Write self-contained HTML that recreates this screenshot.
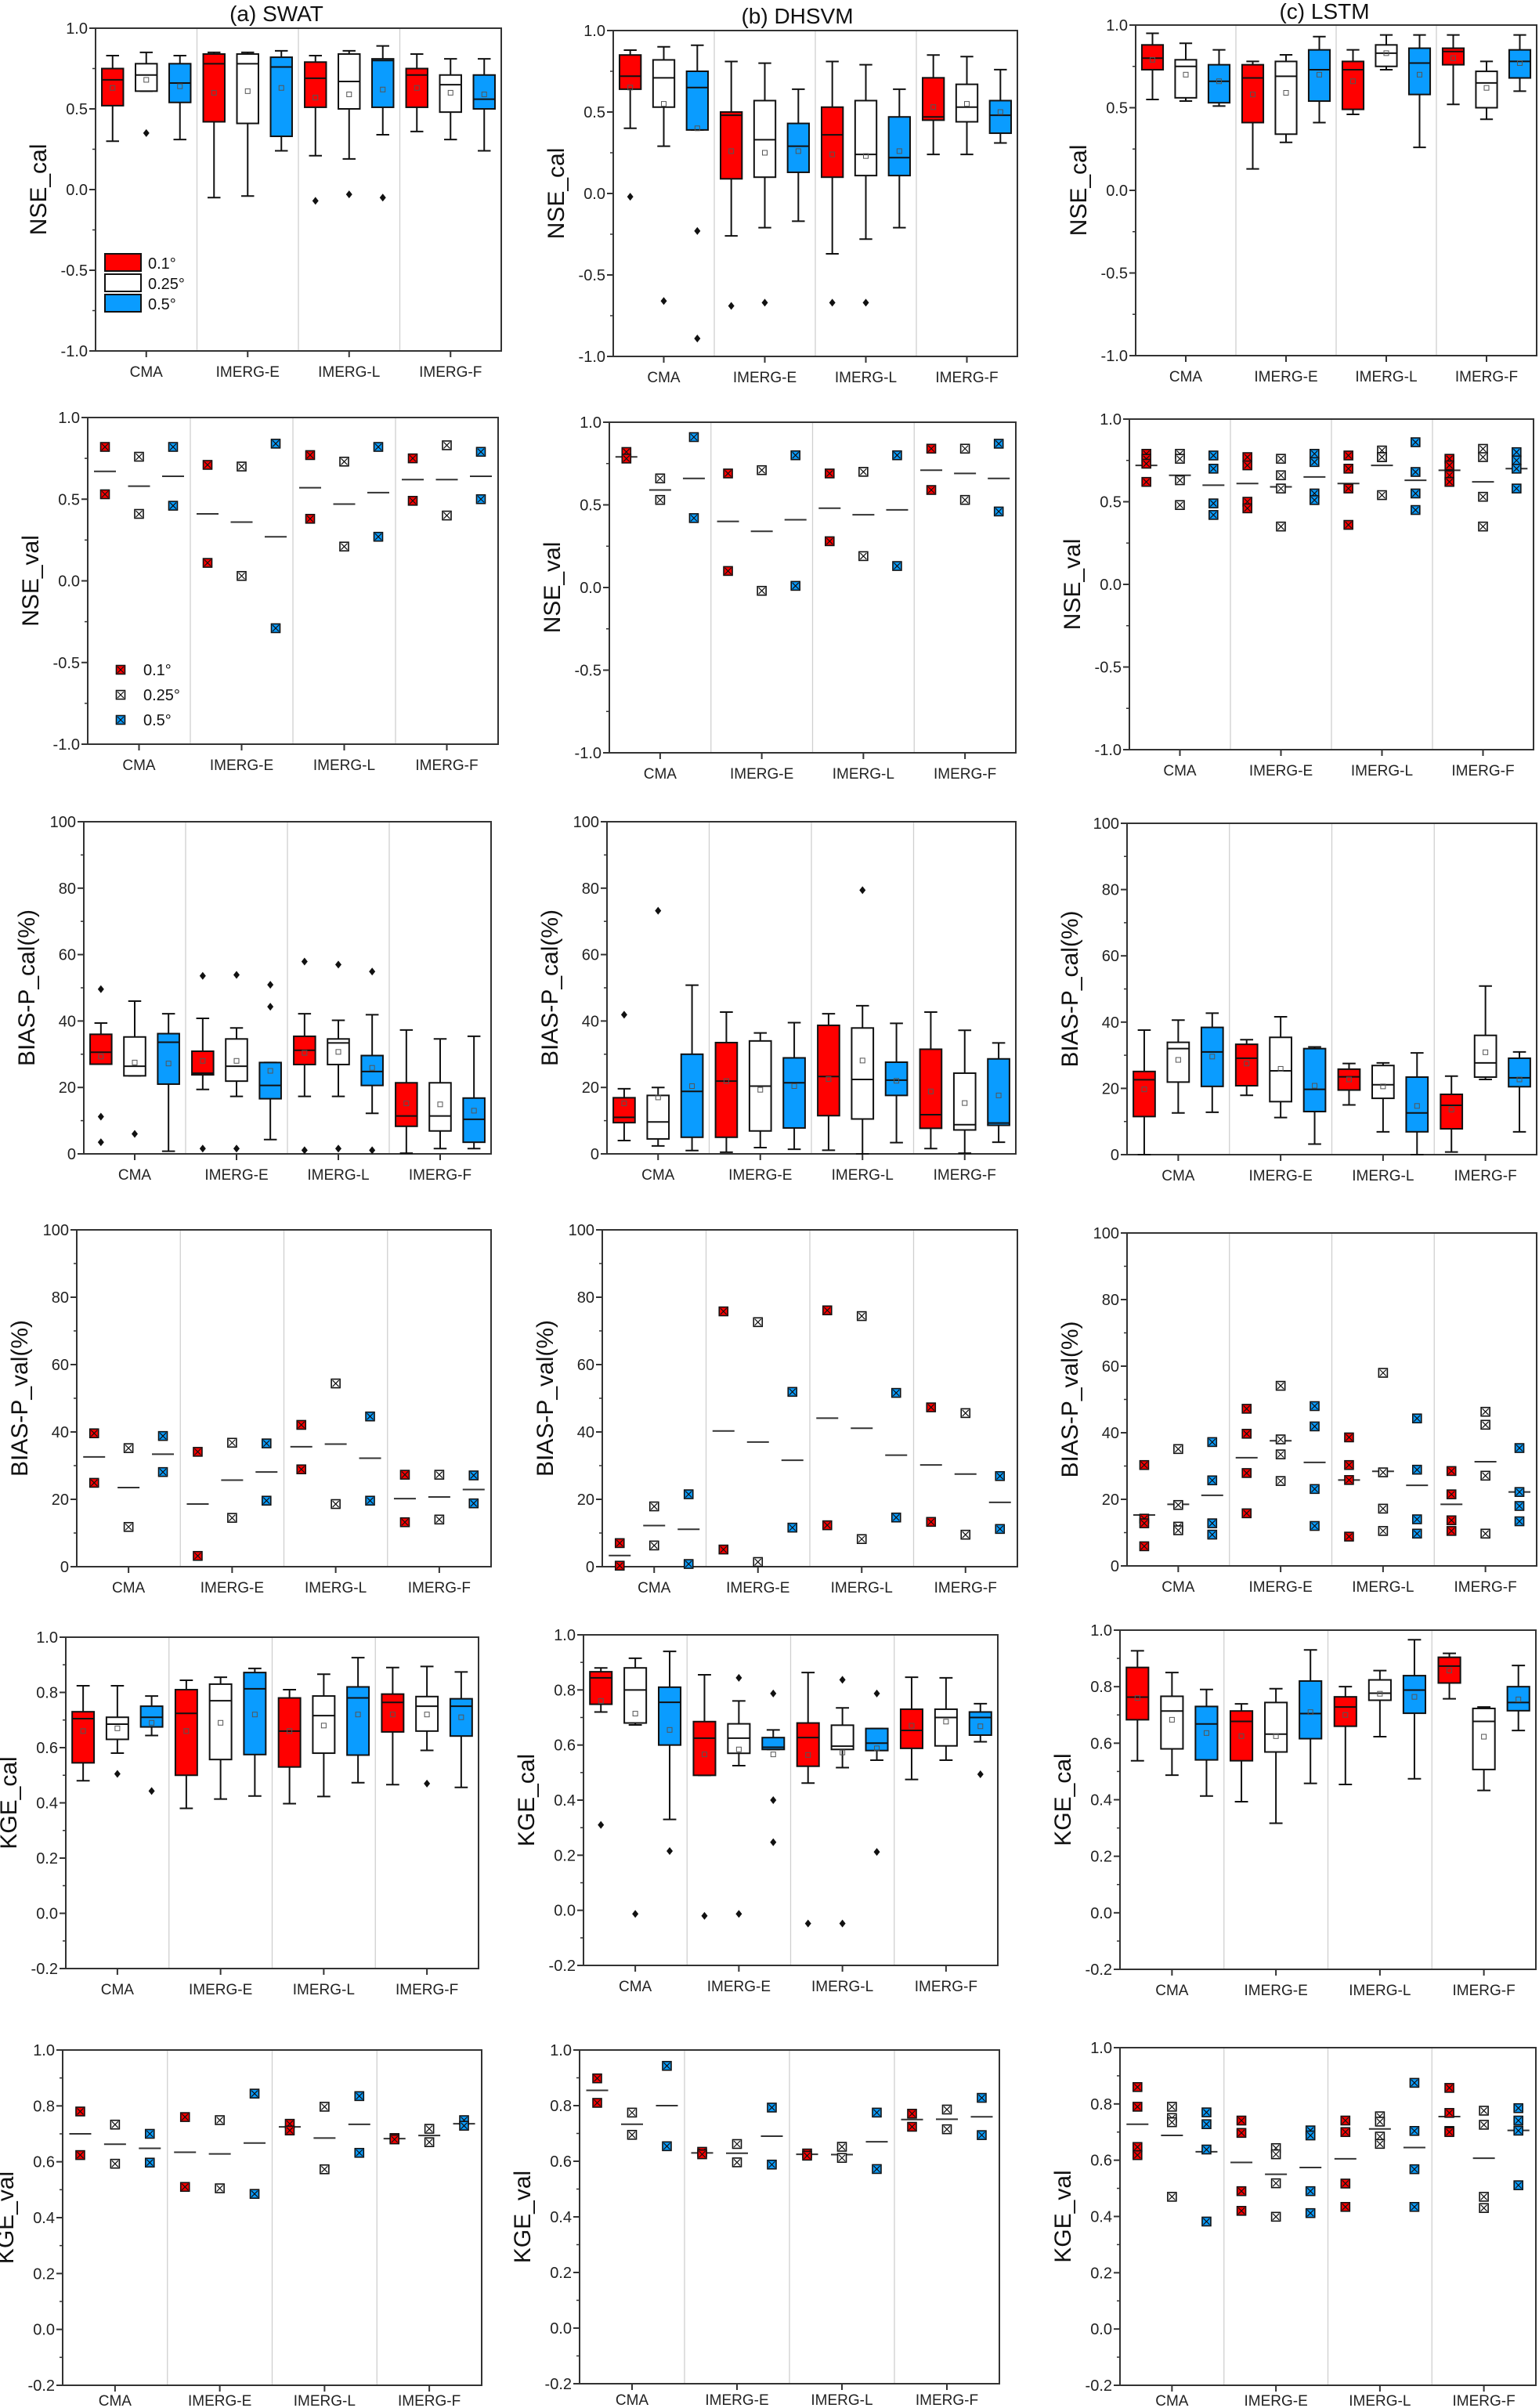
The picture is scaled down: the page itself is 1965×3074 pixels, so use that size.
<!DOCTYPE html>
<html><head><meta charset="utf-8">
<style>
html,body{margin:0;padding:0;background:#fff;}
svg{display:block;font-family:"Liberation Sans",sans-serif;}
</style></head>
<body>
<svg id="fig" width="1965" height="3074" viewBox="0 0 1965 3074" xmlns="http://www.w3.org/2000/svg"></svg>
<script>
// ---------- shared categories ----------
const categories = ["CMA","IMERG-E","IMERG-L","IMERG-F"];
const resolutions = ["0.1°","0.25°","0.5°"];

// ---------- box stats: [whiskerLow, q1, median, q3, whiskerHigh, mean] ----------
const swatNseCal = [[0.30,0.52,0.68,0.75,0.83,0.63],[0.61,0.61,0.71,0.78,0.85,0.68],[0.31,0.54,0.66,0.78,0.83,0.64],
 [-0.05,0.42,0.78,0.84,0.85,0.60],[-0.04,0.41,0.78,0.84,0.85,0.61],[0.24,0.33,0.76,0.82,0.86,0.63],
 [0.21,0.51,0.69,0.79,0.83,0.57],[0.19,0.50,0.67,0.84,0.86,0.59],[0.34,0.51,0.80,0.81,0.89,0.62],
 [0.36,0.51,0.71,0.75,0.84,0.63],[0.31,0.48,0.65,0.71,0.81,0.60],[0.24,0.50,0.56,0.71,0.81,0.59]];
const swatNseCalOut = [[1,0.35],[6,-0.07],[7,-0.03],[8,-0.05]];
const dhsvmNseCal = [[0.40,0.64,0.72,0.85,0.88,0.65],[0.29,0.53,0.71,0.82,0.90,0.55],[0.39,0.39,0.65,0.75,0.91,0.40],
 [-0.26,0.09,0.48,0.50,0.81,0.26],[-0.21,0.10,0.33,0.57,0.80,0.25],[-0.17,0.13,0.29,0.43,0.64,0.26],
 [-0.37,0.10,0.36,0.53,0.81,0.24],[-0.28,0.11,0.24,0.57,0.79,0.23],[-0.21,0.11,0.22,0.47,0.64,0.26],
 [0.24,0.45,0.47,0.71,0.85,0.53],[0.24,0.44,0.53,0.67,0.84,0.55],[0.31,0.37,0.48,0.57,0.76,0.50]];
const dhsvmNseCalOut = [[0,-0.02],[1,-0.66],[2,-0.23],[2,-0.89],[3,-0.69],[4,-0.67],[6,-0.67],[7,-0.67]];
const lstmNseCal = [[0.55,0.73,0.80,0.88,0.95,0.79],[0.54,0.56,0.75,0.79,0.89,0.70],[0.51,0.53,0.66,0.76,0.85,0.66],
 [0.13,0.41,0.68,0.76,0.78,0.58],[0.29,0.34,0.69,0.78,0.82,0.59],[0.41,0.54,0.73,0.85,0.93,0.70],
 [0.46,0.49,0.73,0.78,0.85,0.66],[0.73,0.75,0.83,0.88,0.94,0.83],[0.26,0.58,0.77,0.86,0.94,0.70],
 [0.52,0.76,0.84,0.86,0.94,0.80],[0.43,0.50,0.65,0.72,0.78,0.62],[0.60,0.68,0.78,0.85,0.94,0.77]];
const lstmNseCalOut = [];

const swatBiasCal = [[27,27,30.6,36,39.4,29.3],[23.5,23.5,26.4,35.2,46,27.5],[0.8,21,33.6,36.2,42.2,27.2],
 [19.4,23.8,24.3,30.9,40.8,28],[17.3,21.9,26.4,34.6,37.9,28],[4.3,16.6,20.6,27.5,27.5,25],
 [17.3,26.9,31.2,35.4,42.2,30.4],[17.3,26.9,33.4,34.6,40.2,30.7],[12.2,20.6,24.8,29.6,41.9,25.9],
 [0.2,8.3,11.4,21.4,37.3,15.2],[1.6,6.9,11.4,21.4,34.6,14.9],[1.6,3.5,10.4,16.8,35.4,13]];
const swatBiasCalOut = [[0,49.6],[0,11.2],[0,3.5],[1,6],[3,53.6],[3,1.6],[4,53.9],[4,1.6],[5,50.9],[5,44.3],[6,57.9],[6,1.1],[7,57],[7,1.6],[8,54.9],[8,1.1]];
const dhsvmBiasCal = [[4,9.4,11,16.9,19.6,15.2],[2.4,4.5,9.6,17.6,20,17],[1,5,18.8,30,50.8,20.4],
 [0.5,5,21.9,33.5,42.7,21.9],[1.9,6.9,20.4,34,36.4,19.3],[1.4,7.8,21.4,28.9,39.5,20.4],
 [1.1,11.5,23.3,38.7,42.2,22.5],[0,10.5,22.4,37.9,44.6,28.1],[3.4,17.6,22.2,27.6,39.3,22],
 [1.6,7.7,11.8,31.5,42.7,18.8],[0.2,7.2,8.8,24.3,37.2,15.3],[3.5,8.6,9.3,28.6,33.4,17.6]];
const dhsvmBiasCalOut = [[0,41.9],[1,73.2],[7,79.4]];
const lstmBiasCal = [[0,11.5,22.6,25.1,37.6,19.7],[12.6,21.9,32,33.9,40.6,28.6],[12.8,20.6,31,38.4,42.7,29.6],
 [17.9,20.8,29.1,33.3,34.7,27.5],[11.2,16,25.3,35.4,41.6,25.9],[3.2,13,19.7,32,32.5,20.8],
 [15,19.5,23.5,25.8,27.5,22.7],[6.9,17,21.1,26.9,27.7,20.6],[0,6.9,12.6,23.4,30.7,14.7],
 [0.8,7.8,14.9,18.2,23.7,13.6],[22.7,23.4,27.7,36,50.9,30.9],[6.9,20.5,23.2,29.1,31,22.7]];
const lstmBiasCalOut = [];

const swatKgeCal = [[0.48,0.545,0.705,0.73,0.824,0.66],[0.58,0.63,0.685,0.71,0.824,0.67],[0.644,0.675,0.71,0.75,0.787,0.69],
 [0.38,0.50,0.724,0.81,0.844,0.66],[0.414,0.557,0.77,0.83,0.855,0.69],[0.425,0.575,0.813,0.872,0.887,0.72],
 [0.397,0.53,0.66,0.78,0.81,0.66],[0.423,0.58,0.716,0.787,0.866,0.68],[0.473,0.573,0.78,0.82,0.926,0.72],
 [0.466,0.657,0.764,0.794,0.89,0.72],[0.59,0.66,0.75,0.785,0.894,0.72],[0.456,0.642,0.75,0.777,0.874,0.71]];
const swatKgeCalOut = [[1,0.505],[2,0.443],[10,0.47]];
const dhsvmKgeCal = [[0.72,0.748,0.844,0.866,0.88,0.76],[0.673,0.68,0.80,0.88,0.915,0.714],[0.33,0.60,0.755,0.81,0.94,0.655],
 [0.49,0.49,0.625,0.685,0.855,0.566],[0.525,0.57,0.625,0.677,0.76,0.584],[0.584,0.584,0.592,0.627,0.655,0.566],
 [0.462,0.523,0.627,0.68,0.863,0.564],[0.518,0.584,0.596,0.672,0.735,0.573],[0.545,0.58,0.607,0.66,0.66,0.588],
 [0.475,0.588,0.653,0.73,0.846,0.67],[0.545,0.597,0.70,0.73,0.844,0.685],[0.612,0.636,0.70,0.72,0.75,0.668]];
const dhsvmKgeCalOut = [[0,0.31],[1,-0.013],[2,0.215],[3,-0.02],[4,0.844],[4,-0.013],[5,0.787],[5,0.40],[5,0.247],[6,-0.048],[7,0.837],[7,-0.048],[8,0.787],[8,0.212],[11,0.494]];
const lstmKgeCal = [[0.538,0.683,0.763,0.868,0.927,0.76],[0.487,0.58,0.714,0.766,0.85,0.683],[0.413,0.541,0.668,0.73,0.79,0.636],
 [0.393,0.538,0.677,0.714,0.739,0.625],[0.317,0.569,0.632,0.744,0.793,0.625],[0.458,0.616,0.705,0.82,0.93,0.71],
 [0.454,0.66,0.728,0.764,0.80,0.70],[0.623,0.752,0.777,0.824,0.857,0.775],[0.474,0.706,0.788,0.839,0.966,0.764],
 [0.757,0.813,0.873,0.904,0.918,0.857],[0.433,0.507,0.677,0.723,0.728,0.623],[0.645,0.715,0.744,0.80,0.875,0.755]];
const lstmKgeCalOut = [];

// ---------- validation points and means ----------
const swatNseValPts = [[0.82,0.53],[0.76,0.41],[0.82,0.46],[0.71,0.11],[0.70,0.03],[0.84,-0.29],[0.77,0.38],[0.73,0.21],[0.82,0.27],[0.75,0.49],[0.83,0.40],[0.79,0.50]];
const swatNseValMean = [0.67,0.58,0.64,0.41,0.36,0.27,0.57,0.47,0.54,0.62,0.62,0.64];
const dhsvmNseValPts = [[0.82,0.78],[0.66,0.53],[0.91,0.42],[0.69,0.10],[0.71,-0.02],[0.80,0.01],[0.69,0.28],[0.70,0.19],[0.80,0.13],[0.84,0.59],[0.84,0.53],[0.87,0.46]];
const dhsvmNseValMean = [0.79,0.59,0.66,0.40,0.34,0.41,0.48,0.44,0.47,0.71,0.69,0.66];
const lstmNseValPts = [[0.79,0.76,0.73,0.62],[0.79,0.76,0.63,0.48],[0.78,0.70,0.49,0.42],[0.77,0.72,0.50,0.46],[0.76,0.66,0.58,0.35],[0.79,0.74,0.55,0.51],[0.78,0.70,0.58,0.36],[0.81,0.77,0.77,0.54],[0.86,0.68,0.55,0.45],[0.76,0.72,0.66,0.62],[0.82,0.77,0.53,0.35],[0.80,0.75,0.70,0.58]];
const lstmNseValMean = [0.72,0.66,0.60,0.61,0.59,0.65,0.61,0.72,0.63,0.69,0.62,0.70];

const swatBiasValPts = [[39.6,24.9],[35.2,11.8],[38.8,28.1],[34.1,3.2],[36.8,14.5],[36.6,19.6],[42.1,28.9],[54.4,18.6],[44.6,19.6],[27.3,13.2],[27.3,14],[27.1,18.8]];
const swatBiasValMean = [32.6,23.5,33.4,18.6,25.7,28.1,35.6,36.4,32.2,20.2,20.7,22.9];
const dhsvmBiasValPts = [[7,0.3],[17.9,6.3],[21.5,0.8],[75.8,5.1],[72.6,1.4],[51.9,11.6],[76.1,12.3],[74.4,8.2],[51.6,14.6],[47.3,13.3],[45.6,9.5],[26.9,11.2]];
const dhsvmBiasValMean = [3.3,12.2,11.1,40.3,37,31.6,44.1,41.1,33.1,30.2,27.5,19.1];
const lstmBiasValPts = [[30.3,14.2,12.8,5.9],[35.1,18.3,11.8,10.7],[37.2,25.7,12.8,9.4],[47.2,39.7,27.9,15.8],[54.1,38,33.5,25.5],[48,41.9,23.1,12],[38.6,30.3,25.8,8.8],[58,28.1,17.2,10.5],[44.3,28.9,14,9.7],[28.5,21.5,13.7,10.5],[46.3,42.4,27.1,9.7],[35.4,22.2,18,13.4]];
const lstmBiasValMean = [15.3,18.5,21.2,32.5,37.6,31.1,25.8,28.4,24.2,18.5,31.3,22.2];

const swatKgeValPts = [[0.78,0.624],[0.733,0.593],[0.70,0.597],[0.76,0.51],[0.749,0.505],[0.844,0.485],[0.736,0.712],[0.797,0.573],[0.835,0.632],[0.685,0.68],[0.718,0.67],[0.749,0.729]];
const swatKgeValMean = [0.70,0.663,0.648,0.634,0.628,0.667,0.725,0.685,0.734,0.683,0.694,0.736];
const dhsvmKgeValPts = [[0.898,0.81],[0.775,0.695],[0.943,0.654],[0.634,0.625],[0.662,0.596],[0.793,0.588],[0.628,0.62],[0.652,0.612],[0.775,0.572],[0.771,0.724],[0.786,0.715],[0.828,0.694]];
const dhsvmKgeValMean = [0.855,0.733,0.80,0.63,0.629,0.69,0.625,0.624,0.67,0.75,0.751,0.76];
const lstmKgeValPts = [[0.86,0.79,0.647,0.618],[0.79,0.75,0.735,0.47],[0.77,0.728,0.638,0.382],[0.741,0.697,0.49,0.42],[0.643,0.621,0.518,0.399],[0.706,0.688,0.49,0.412],[0.741,0.70,0.517,0.434],[0.756,0.737,0.684,0.658],[0.875,0.704,0.568,0.434],[0.857,0.768,0.704,0.70],[0.776,0.726,0.47,0.43],[0.785,0.741,0.705,0.511]];
const lstmKgeValMean = [0.728,0.688,0.63,0.592,0.55,0.574,0.605,0.711,0.645,0.755,0.607,0.706];

// ---------- axis tick arrays ----------
const nseTicks = [-1.0,-0.5,0.0,0.5,1.0];
const nseTickLabels = ["-1.0","-0.5","0.0","0.5","1.0"];
const biasTicks = [0,20,40,60,80,100];
const biasTickLabels = ["0","20","40","60","80","100"];
const kgeTicks = [-0.2,0.0,0.2,0.4,0.6,0.8,1.0];
const kgeTickLabels = ["-0.2","0.0","0.2","0.4","0.6","0.8","1.0"];

// ---------- rendering ----------
const NS = "http://www.w3.org/2000/svg";
const svg = document.getElementById("fig");
const COLORS = ["#ff0000","#ffffff","#0a9cff"];
function mk(tag, attrs, parent){
  const e = document.createElementNS(NS, tag);
  for (const k in attrs) e.setAttribute(k, attrs[k]);
  (parent||svg).appendChild(e);
  return e;
}
function txt(s, attrs, parent){ const e = mk("text", attrs, parent); e.textContent = s; return e; }

const nseAxis = {min:-1, max:1, ticks:nseTicks, labels:nseTickLabels, minor:0.25};
const biasAxis = {min:0, max:100, ticks:biasTicks, labels:biasTickLabels, minor:10};
const kgeAxis = {min:-0.2, max:1.0, ticks:kgeTicks, labels:kgeTickLabels, minor:0.1};

function frame(p, axis, ylabel, name){
  const g = mk("g", {});
  
  
  const W = p.r - p.l;
  const ys = v => p.b - (v - axis.min) / (axis.max - axis.min) * (p.b - p.t);
  const xs = i => p.l + W * (0.125 + 0.25 * Math.floor(i/3) + ((i%3) - 1) * 0.083);
  for (let s = 1; s < 4; s++){
    const ln = mk("line", {x1:p.l+W*0.25*s, x2:p.l+W*0.25*s, y1:p.t, y2:p.b, stroke:"#cfcfcf", "stroke-width":1.3}, g);
    
    
  }
  const fr = mk("rect", {x:p.l, y:p.t, width:W, height:p.b-p.t, fill:"none", stroke:"#333", "stroke-width":2}, g);
  
  
  axis.ticks.forEach((v, i) => {
    const y = ys(v);
    mk("line", {x1:p.l-8, x2:p.l, y1:y, y2:y, stroke:"#333", "stroke-width":2}, g);
    const t = txt(axis.labels[i], {x:p.l-10, y:y+7, "text-anchor":"end", "font-size":20, fill:"#222"}, g);
    
    
    if (i < axis.ticks.length - 1){
      const ym = ys(v + axis.minor);
      mk("line", {x1:p.l-4, x2:p.l, y1:ym, y2:ym, stroke:"#333", "stroke-width":1.5}, g);
    }
  });
  const lblOff = p.lbl || 33;
  categories.forEach((c, gI) => {
    const x = p.l + W * (0.125 + 0.25 * gI);
    mk("line", {x1:x, x2:x, y1:p.b, y2:p.b+8, stroke:"#333", "stroke-width":2}, g);
    const t = txt(c, {x:x, y:p.b+lblOff, "text-anchor":"middle", "font-size":19, fill:"#222"}, g);
    
    
  });
  const cx = p.l - 63, cy = (p.t + p.b) / 2;
  const yl = txt(ylabel, {x:cx, y:cy, transform:`rotate(-90 ${cx} ${cy})`, "text-anchor":"middle", "font-size":30, fill:"#111"}, g);
  
  
  return {g, ys, xs, W};
}

function boxPanel(p, axis, ylabel, stats, outs, name){
  const f = frame(p, axis, ylabel, name);
  const bw = f.W * 0.053;
  stats.forEach((s, i) => {
    const x = f.xs(i), col = COLORS[i%3];
    const g = mk("g", {}, f.g);
    
    
    mk("line", {x1:x, x2:x, y1:f.ys(s[0]), y2:f.ys(s[1]), stroke:"#111", "stroke-width":2}, g);
    mk("line", {x1:x, x2:x, y1:f.ys(s[3]), y2:f.ys(s[4]), stroke:"#111", "stroke-width":2}, g);
    mk("line", {x1:x-bw*0.3, x2:x+bw*0.3, y1:f.ys(s[0]), y2:f.ys(s[0]), stroke:"#111", "stroke-width":2}, g);
    mk("line", {x1:x-bw*0.3, x2:x+bw*0.3, y1:f.ys(s[4]), y2:f.ys(s[4]), stroke:"#111", "stroke-width":2}, g);
    mk("rect", {x:x-bw/2, y:f.ys(s[3]), width:bw, height:Math.max(1, f.ys(s[1])-f.ys(s[3])), fill:col, stroke:"#111", "stroke-width":2}, g);
    mk("line", {x1:x-bw/2, x2:x+bw/2, y1:f.ys(s[2]), y2:f.ys(s[2]), stroke:"#111", "stroke-width":2}, g);
    mk("rect", {x:x-3, y:f.ys(s[5])-3, width:6, height:6, fill:"none", stroke:"#555", "stroke-width":1}, g);
  });
  outs.forEach(o => {
    const x = f.xs(o[0]), y = f.ys(o[1]);
    const d = mk("path", {d:`M${x} ${y-5}L${x+4} ${y}L${x} ${y+5}L${x-4} ${y}Z`, fill:"#111"}, f.g);
    
    
  });
  return f;
}

function marker(parent, x, y, col){
  const g = mk("g", {}, parent);
  mk("rect", {x:x-5.5, y:y-5.5, width:11, height:11, fill:col, stroke:"#111", "stroke-width":1.6}, g);
  mk("path", {d:`M${x-4} ${y-4}L${x+4} ${y+4}M${x+4} ${y-4}L${x-4} ${y+4}`, stroke:"#111", "stroke-width":1.2}, g);
  return g;
}

function valPanel(p, axis, ylabel, pts, means, name){
  const f = frame(p, axis, ylabel, name);
  means.forEach((m, i) => {
    const x = f.xs(i), y = f.ys(m);
    const l = mk("line", {x1:x-14, x2:x+14, y1:y, y2:y, stroke:"#333", "stroke-width":2}, f.g);
    
    
  });
  pts.forEach((arr, i) => {
    arr.forEach(v => {
      const m = marker(f.g, f.xs(i), f.ys(v), COLORS[i%3]);
      
      
    });
  });
  return f;
}

const L = {
 r1:[{l:122,r:640,t:36,b:448},{l:783,r:1299,t:39,b:455},{l:1450,r:1962,t:32,b:454}],
 r2:[{l:112,r:636,t:533,b:950},{l:778,r:1297,t:539,b:961},{l:1442,r:1958,t:535,b:957}],
 r3:[{l:107,r:627,t:1049,b:1473},{l:775,r:1297,t:1049,b:1473},{l:1439,r:1962,t:1051,b:1474}],
 r4:[{l:98,r:627,t:1570,b:2000},{l:769,r:1299,t:1570,b:2000},{l:1439,r:1962,t:1574,b:1999}],
 r5:[{l:84,r:611,t:2090,b:2513},{l:745,r:1274,t:2087,b:2509},{l:1430,r:1961,t:2081,b:2514}],
 r6:[{l:80,r:615,t:2617,b:3045,lbl:26},{l:740,r:1276,t:2617,b:3043,lbl:27},{l:1430,r:1961,t:2614,b:3045,lbl:26}]
};

boxPanel(L.r1[0], nseAxis, "NSE_cal", swatNseCal, swatNseCalOut, "swat-nse-cal");
boxPanel(L.r1[1], nseAxis, "NSE_cal", dhsvmNseCal, dhsvmNseCalOut, "dhsvm-nse-cal");
boxPanel(L.r1[2], nseAxis, "NSE_cal", lstmNseCal, lstmNseCalOut, "lstm-nse-cal");
valPanel(L.r2[0], nseAxis, "NSE_val", swatNseValPts, swatNseValMean, "swat-nse-val");
valPanel(L.r2[1], nseAxis, "NSE_val", dhsvmNseValPts, dhsvmNseValMean, "dhsvm-nse-val");
valPanel(L.r2[2], nseAxis, "NSE_val", lstmNseValPts, lstmNseValMean, "lstm-nse-val");
boxPanel(L.r3[0], biasAxis, "BIAS-P_cal(%)", swatBiasCal, swatBiasCalOut, "swat-bias-cal");
boxPanel(L.r3[1], biasAxis, "BIAS-P_cal(%)", dhsvmBiasCal, dhsvmBiasCalOut, "dhsvm-bias-cal");
boxPanel(L.r3[2], biasAxis, "BIAS-P_cal(%)", lstmBiasCal, lstmBiasCalOut, "lstm-bias-cal");
valPanel(L.r4[0], biasAxis, "BIAS-P_val(%)", swatBiasValPts, swatBiasValMean, "swat-bias-val");
valPanel(L.r4[1], biasAxis, "BIAS-P_val(%)", dhsvmBiasValPts, dhsvmBiasValMean, "dhsvm-bias-val");
valPanel(L.r4[2], biasAxis, "BIAS-P_val(%)", lstmBiasValPts, lstmBiasValMean, "lstm-bias-val");
boxPanel(L.r5[0], kgeAxis, "KGE_cal", swatKgeCal, swatKgeCalOut, "swat-kge-cal");
boxPanel(L.r5[1], kgeAxis, "KGE_cal", dhsvmKgeCal, dhsvmKgeCalOut, "dhsvm-kge-cal");
boxPanel(L.r5[2], kgeAxis, "KGE_cal", lstmKgeCal, lstmKgeCalOut, "lstm-kge-cal");
valPanel(L.r6[0], kgeAxis, "KGE_val", swatKgeValPts, swatKgeValMean, "swat-kge-val");
valPanel(L.r6[1], kgeAxis, "KGE_val", dhsvmKgeValPts, dhsvmKgeValMean, "dhsvm-kge-val");
valPanel(L.r6[2], kgeAxis, "KGE_val", lstmKgeValPts, lstmKgeValMean, "lstm-kge-val");

const t1 = txt("(a)  SWAT", {x:353, y:27, "text-anchor":"middle", "font-size":28, fill:"#111"});


const t2 = txt("(b)  DHSVM", {x:1018, y:30, "text-anchor":"middle", "font-size":28, fill:"#111"});


const t3 = txt("(c)  LSTM", {x:1691, y:24, "text-anchor":"middle", "font-size":28, fill:"#111"});



const lg1 = mk("g", {});


[324, 350, 376].forEach((y, k) => {
  const r = mk("rect", {x:134, y:y, width:46, height:22, fill:COLORS[k], stroke:"#111", "stroke-width":2}, lg1);
  
  
  const t = txt(resolutions[k], {x:189, y:y+19, "font-size":20, fill:"#111"}, lg1);
  
  
});
const lg2 = mk("g", {});


[855, 887, 919].forEach((y, k) => {
  const m = marker(lg2, 154, y, COLORS[k]);
  
  
  const t = txt(resolutions[k], {x:183, y:y+7, "font-size":20, fill:"#111"}, lg2);
  
  
});
</script>
</body></html>
